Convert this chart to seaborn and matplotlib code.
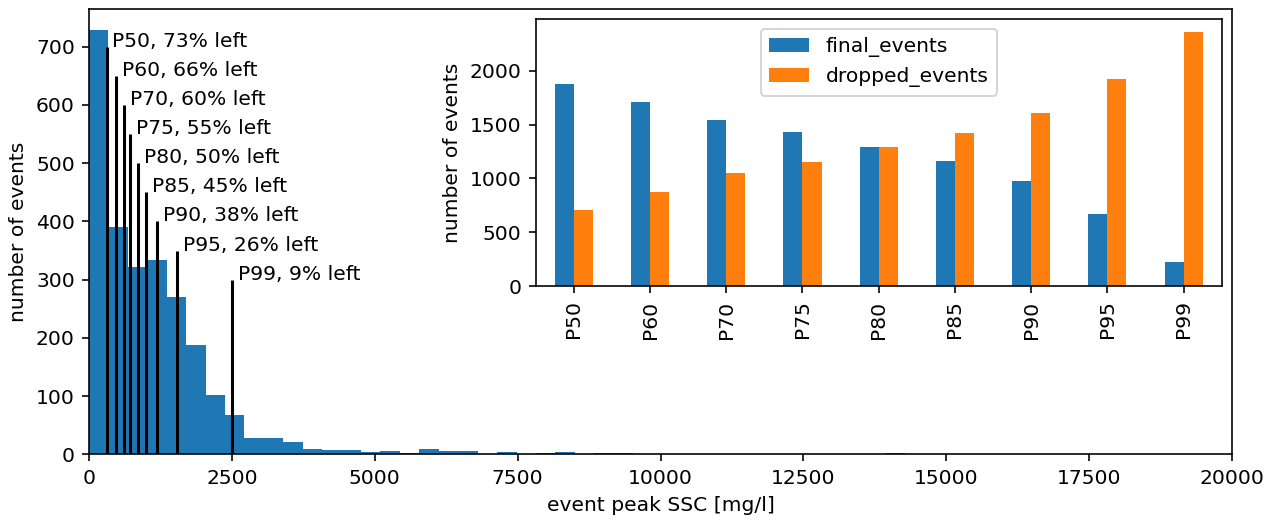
import numpy as np
import pandas as pd
import seaborn as sns
import matplotlib
matplotlib.use("Agg")
import matplotlib.pyplot as plt

# histogram of event peak SSC (42 bins of ~340 mg/l)
bin_width = 340
hist_counts = [728, 390, 322, 333, 270, 188, 102, 68, 28, 28,
               21, 10, 8, 8, 5, 6, 2, 9, 6, 6,
               1, 5, 1, 2, 5, 0, 2, 2, 0, 1,
               1, 0, 0, 0, 1, 0, 0, 0, 1, 1,
               0, 2]

# percentile thresholds
pct_names = ["P50", "P60", "P70", "P75", "P80", "P85", "P90", "P95", "P99"]
pct_values = [310, 473, 618, 718, 858, 1004, 1196, 1541, 2504]
pct_left = [73, 66, 60, 55, 50, 45, 38, 26, 9]

# events kept / dropped per threshold
final_events = [1880, 1712, 1540, 1432, 1295, 1165, 980, 670, 228]
dropped_events = [708, 876, 1048, 1156, 1293, 1423, 1608, 1918, 2360]

dpi = 146
fig = plt.figure(figsize=(1277 / dpi, 523 / dpi), dpi=dpi)
ax = fig.add_axes([0.0697, 0.131, 0.8951, 0.8518])

edges = np.arange(len(hist_counts) + 1) * bin_width
hist_df = pd.DataFrame({
    "ssc": edges[:-1] + bin_width / 2,
    "count": hist_counts,
})
sns.histplot(data=hist_df, x="ssc", weights="count", bins=edges.tolist(),
             color="#1f77b4", alpha=1, linewidth=0, ax=ax)

for i, (name, val, left) in enumerate(zip(pct_names, pct_values, pct_left)):
    h = 700 - 50 * i
    ax.vlines(val, 0, h, color="black", lw=1.5)
    ax.text(val + 100, h, f"{name}, {left}% left")

ax.set_xlim(0, 20000)
ax.set_xlabel("event peak SSC [mg/l]")
ax.set_ylabel("number of events")

# inset bar chart
axin = fig.add_axes([0.4195, 0.4526, 0.5372, 0.511])
df = pd.DataFrame({
    "percentile": pct_names * 2,
    "events": final_events + dropped_events,
    "kind": ["final_events"] * len(pct_names) + ["dropped_events"] * len(pct_names),
})
sns.barplot(data=df, x="percentile", y="events", hue="kind",
            palette=["#1f77b4", "#ff7f0e"], width=0.5, gap=0,
            saturation=1, linewidth=0, ax=axin)
sns.move_legend(axin, "upper center", title=None)
axin.tick_params(axis="x", rotation=90)
axin.set_xlabel("")
axin.set_ylabel("number of events")

fig.savefig("out.png", dpi=dpi)
